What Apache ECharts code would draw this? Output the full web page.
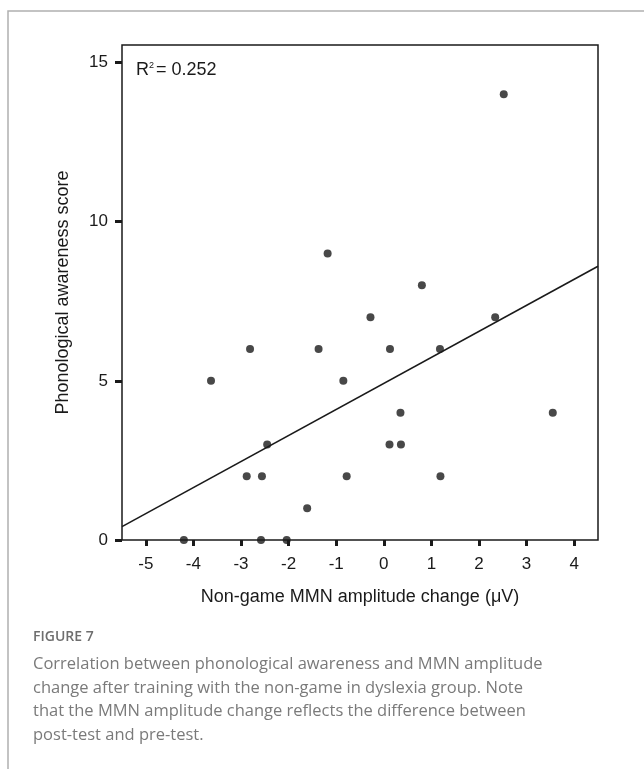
<!DOCTYPE html>
<html lang="en">
<head>
    <meta charset="UTF-8">
    <title>Figure 7</title>
    <style>
        html, body { margin: 0; padding: 0; background: #fff; }
        #main { width: 644px; height: 769px; }
    </style>
</head>
<body>
    <div id="main"></div>
    <script src="https://cdn.jsdelivr.net/npm/echarts@6/dist/echarts.min.js"></script>
    <script>
        // MMN amplitude change (uV) and phonological awareness score per child
        var ampChange = [-4.20, -2.58, -2.04, -3.63, -2.81, -2.88, -2.56, -2.45,
            -1.61, -1.37, -0.85, -0.78, -0.28, 0.13, 0.12, 0.35, 0.36, 1.18,
            1.19, 2.34, 3.55, -1.18, 0.80, 2.52];
        var paScore = [0, 0, 0, 5, 6, 2, 2, 3,
            1, 6, 5, 2, 7, 6, 3, 4, 3, 6,
            2, 7, 4, 9, 8, 14];
        // fitted line end points
        var fitX = [-5.5, 4.5];
        var fitY = [0.42, 8.6];
        var xTicks = [-5, -4, -3, -2, -1, 0, 1, 2, 3, 4];
        var yTicks = [0, 5, 10, 15];

        var points = ampChange.map(function (v, i) { return [v, paScore[i]]; });
        var fit = fitX.map(function (v, i) { return [v, fitY[i]]; });

        var font = "'Liberation Sans', Arial, sans-serif";
        var ink = "#1a1a1a";

        var myChart = echarts.init(document.getElementById("main"));
        var option = {
            backgroundColor: "#fff",
            animation: false,
            grid: {
                left: 122,
                right: 46,
                top: 45,
                bottom: 229,
                show: true,
                borderColor: ink,
                borderWidth: 1.5
            },
            xAxis: {
                type: "value",
                min: -5.5,
                max: 4.5,
                name: "Non-game MMN amplitude change (\u03bcV)",
                nameLocation: "middle",
                nameGap: 48,
                nameTextStyle: { color: ink, fontSize: 18, fontFamily: font },
                splitLine: { show: false },
                axisLine: { show: false, onZero: false },
                axisTick: {
                    show: true,
                    length: 6,
                    customValues: xTicks,
                    lineStyle: { color: ink, width: 3 }
                },
                axisLabel: {
                    customValues: xTicks,
                    margin: 16,
                    color: ink,
                    fontSize: 17,
                    fontFamily: font
                }
            },
            yAxis: {
                type: "value",
                min: 0,
                max: 15.55,
                name: "Phonological awareness score",
                nameLocation: "middle",
                nameGap: 50,
                nameTextStyle: { color: ink, fontSize: 18, fontFamily: font },
                splitLine: { show: false },
                axisLine: { show: false, onZero: false },
                axisTick: {
                    show: true,
                    length: 7,
                    customValues: yTicks,
                    lineStyle: { color: ink, width: 3 }
                },
                axisLabel: {
                    customValues: yTicks,
                    margin: 14,
                    color: ink,
                    fontSize: 17,
                    fontFamily: font
                }
            },
            series: [{
                    type: "line",
                    data: fit,
                    symbol: "none",
                    silent: true,
                    lineStyle: { color: ink, width: 1.6 },
                    z: 2
                },
                {
                    type: "scatter",
                    data: points,
                    symbol: "circle",
                    symbolSize: 8,
                    clip: true,
                    itemStyle: { color: ink },
                    z: 3
                }
            ],
            graphic: [{
                    // card border (top and left edges)
                    type: "polyline",
                    shape: { points: [[8, 769], [8, 11], [644, 11]] },
                    style: { stroke: "#b0b0b0", lineWidth: 1.5, fill: null }
                },
                {
                    type: "text",
                    left: 136,
                    top: 61,
                    style: {
                        text: "R{sup|2}= 0.252",
                        fill: ink,
                        font: "18px " + font,
                        rich: {
                            sup: { fontSize: 9, verticalAlign: "top", padding: [0, 2, 8, 0], fontFamily: font }
                        }
                    }
                },
                {
                    type: "text",
                    left: 33,
                    top: 630,
                    style: {
                        text: "FIGURE 7",
                        fill: "#6e6e6e",
                        font: "600 14px 'Open Sans', sans-serif"
                    }
                },
                {
                    type: "text",
                    left: 33,
                    top: 653,
                    style: {
                        text: "Correlation between phonological awareness and MMN amplitude\n" +
                            "change after training with the non-game in dyslexia group. Note\n" +
                            "that the MMN amplitude change reflects the difference between\n" +
                            "post-test and pre-test.",
                        fill: "#7a7a7a",
                        font: "16.5px 'Open Sans', sans-serif",
                        lineHeight: 23.5
                    }
                }
            ]
        };
        myChart.setOption(option, true);
    </script>
</body>
</html>
